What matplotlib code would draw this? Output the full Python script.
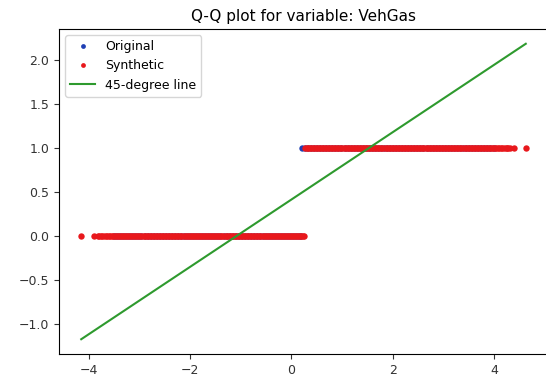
import matplotlib
matplotlib.use("Agg")
import matplotlib.pyplot as plt

variable = "VehGas"

# theoretical quantiles (x) for observations equal to 0 and 1
orig_q_zero = [-3.50, -3.44, -3.38, -3.32, -3.26, -3.20, -3.14, -3.08, -3.02, -2.96,
               -2.90, -2.84, -2.78, -2.72, -2.66, -2.60, -2.54, -2.48, -2.42, -2.36,
               -2.30, -2.24, -2.18, -2.12, -2.06, -2.00, -1.94, -1.88, -1.82, -1.76,
               -1.70, -1.64, -1.58, -1.52, -1.46, -1.40, -1.34, -1.28, -1.22, -1.16,
               -1.10, -1.04, -0.98, -0.92, -0.86, -0.80, -0.74, -0.68, -0.62, -0.56,
               -0.50, -0.44, -0.38, -0.32, -0.26, -0.20, -0.14, -0.08, -0.02, 0.04,
               0.10, 0.15, 0.19]
orig_q_one = [0.21, 0.27, 0.33, 0.39, 0.45, 0.51, 0.57, 0.63, 0.69, 0.75,
              0.81, 0.87, 0.93, 0.99, 1.05, 1.11, 1.17, 1.23, 1.29, 1.35,
              1.41, 1.47, 1.53, 1.59, 1.65, 1.71, 1.77, 1.83, 1.89, 1.95,
              2.01, 2.07, 2.13, 2.19, 2.25, 2.31, 2.37, 2.43, 2.49, 2.55,
              2.61, 2.67, 2.73, 2.79, 2.85, 2.91, 2.97, 3.03, 3.09, 3.15,
              3.21, 3.27, 3.33, 3.39, 3.45, 3.51, 3.57, 3.63, 3.69, 3.75,
              3.81, 3.87, 3.93, 4.00]

synth_q_zero = [-4.15, -3.89, -3.82, -3.79, -3.76, -3.73, -3.70, -3.67, -3.64, -3.61,
                -3.58, -3.55, -3.52, -3.49, -3.46, -3.43, -3.40, -3.37, -3.34, -3.31,
                -3.28, -3.25, -3.22, -3.19, -3.16, -3.13, -3.10, -3.07, -3.04, -3.01,
                -2.98, -2.95, -2.92, -2.89, -2.86, -2.83, -2.80, -2.77, -2.74, -2.71,
                -2.68, -2.65, -2.62, -2.59, -2.56, -2.53, -2.50, -2.47, -2.44, -2.41,
                -2.38, -2.35, -2.32, -2.29, -2.26, -2.23, -2.20, -2.17, -2.14, -2.11,
                -2.08, -2.05, -2.02, -1.99, -1.96, -1.93, -1.90, -1.87, -1.84, -1.81,
                -1.78, -1.75, -1.72, -1.69, -1.66, -1.63, -1.60, -1.57, -1.54, -1.51,
                -1.48, -1.45, -1.42, -1.39, -1.36, -1.33, -1.30, -1.27, -1.24, -1.21,
                -1.18, -1.15, -1.12, -1.09, -1.06, -1.03, -1.00, -0.97, -0.94, -0.91,
                -0.88, -0.85, -0.82, -0.79, -0.76, -0.73, -0.70, -0.67, -0.64, -0.61,
                -0.58, -0.55, -0.52, -0.49, -0.46, -0.43, -0.40, -0.37, -0.34, -0.31,
                -0.28, -0.25, -0.22, -0.19, -0.16, -0.13, -0.10, -0.07, -0.04, -0.01,
                0.02, 0.05, 0.08, 0.11, 0.14, 0.17, 0.20, 0.23, 0.25]
synth_q_one = [0.27, 0.30, 0.33, 0.36, 0.39, 0.42, 0.45, 0.48, 0.51, 0.54,
               0.57, 0.60, 0.63, 0.66, 0.69, 0.72, 0.75, 0.78, 0.81, 0.84,
               0.87, 0.90, 0.93, 0.96, 0.99, 1.02, 1.05, 1.08, 1.11, 1.14,
               1.17, 1.20, 1.23, 1.26, 1.29, 1.32, 1.35, 1.38, 1.41, 1.44,
               1.47, 1.50, 1.53, 1.56, 1.59, 1.62, 1.65, 1.68, 1.71, 1.74,
               1.77, 1.80, 1.83, 1.86, 1.89, 1.92, 1.95, 1.98, 2.01, 2.04,
               2.07, 2.10, 2.13, 2.16, 2.19, 2.22, 2.25, 2.28, 2.31, 2.34,
               2.37, 2.40, 2.43, 2.46, 2.49, 2.52, 2.55, 2.58, 2.61, 2.64,
               2.67, 2.70, 2.73, 2.76, 2.79, 2.82, 2.85, 2.88, 2.91, 2.94,
               2.97, 3.00, 3.03, 3.06, 3.09, 3.12, 3.15, 3.18, 3.21, 3.24,
               3.27, 3.30, 3.33, 3.36, 3.39, 3.42, 3.45, 3.48, 3.51, 3.54,
               3.57, 3.60, 3.63, 3.66, 3.69, 3.72, 3.75, 3.78, 3.81, 3.84,
               3.87, 3.90, 3.93, 3.96, 3.99, 4.02, 4.05, 4.08, 4.11, 4.14,
               4.17, 4.20, 4.23, 4.26, 4.28, 4.31, 4.39, 4.63]

# reference line end points
line_x = [-4.15, 4.63]
line_y = [-1.17, 2.19]

orig_x = orig_q_zero + orig_q_one
orig_y = [0] * len(orig_q_zero) + [1] * len(orig_q_one)
synth_x = synth_q_zero + synth_q_one
synth_y = [0] * len(synth_q_zero) + [1] * len(synth_q_one)

fig = plt.figure(figsize=(5.46, 3.87), dpi=100)
ax = fig.add_axes([59 / 546, 33 / 387, 489 / 546, 325 / 387])

ax.plot(orig_x, orig_y, 'o', color='#1f3fb4', markersize=4.6, markeredgewidth=0, label='Original')
ax.plot(synth_x, synth_y, 'o', color='#e8181c', markersize=4.6, markeredgewidth=0, label='Synthetic')
ax.plot(line_x, line_y, color='#2e9a2e', linewidth=1.5, label='45-degree line')

ax.set_title('Q-Q plot for variable: ' + variable, fontsize=11)
ax.tick_params(labelsize=9, colors='#333333')
ax.legend(loc='upper left', fontsize=9, markerscale=0.75)

fig.savefig('out.png', dpi=100)
